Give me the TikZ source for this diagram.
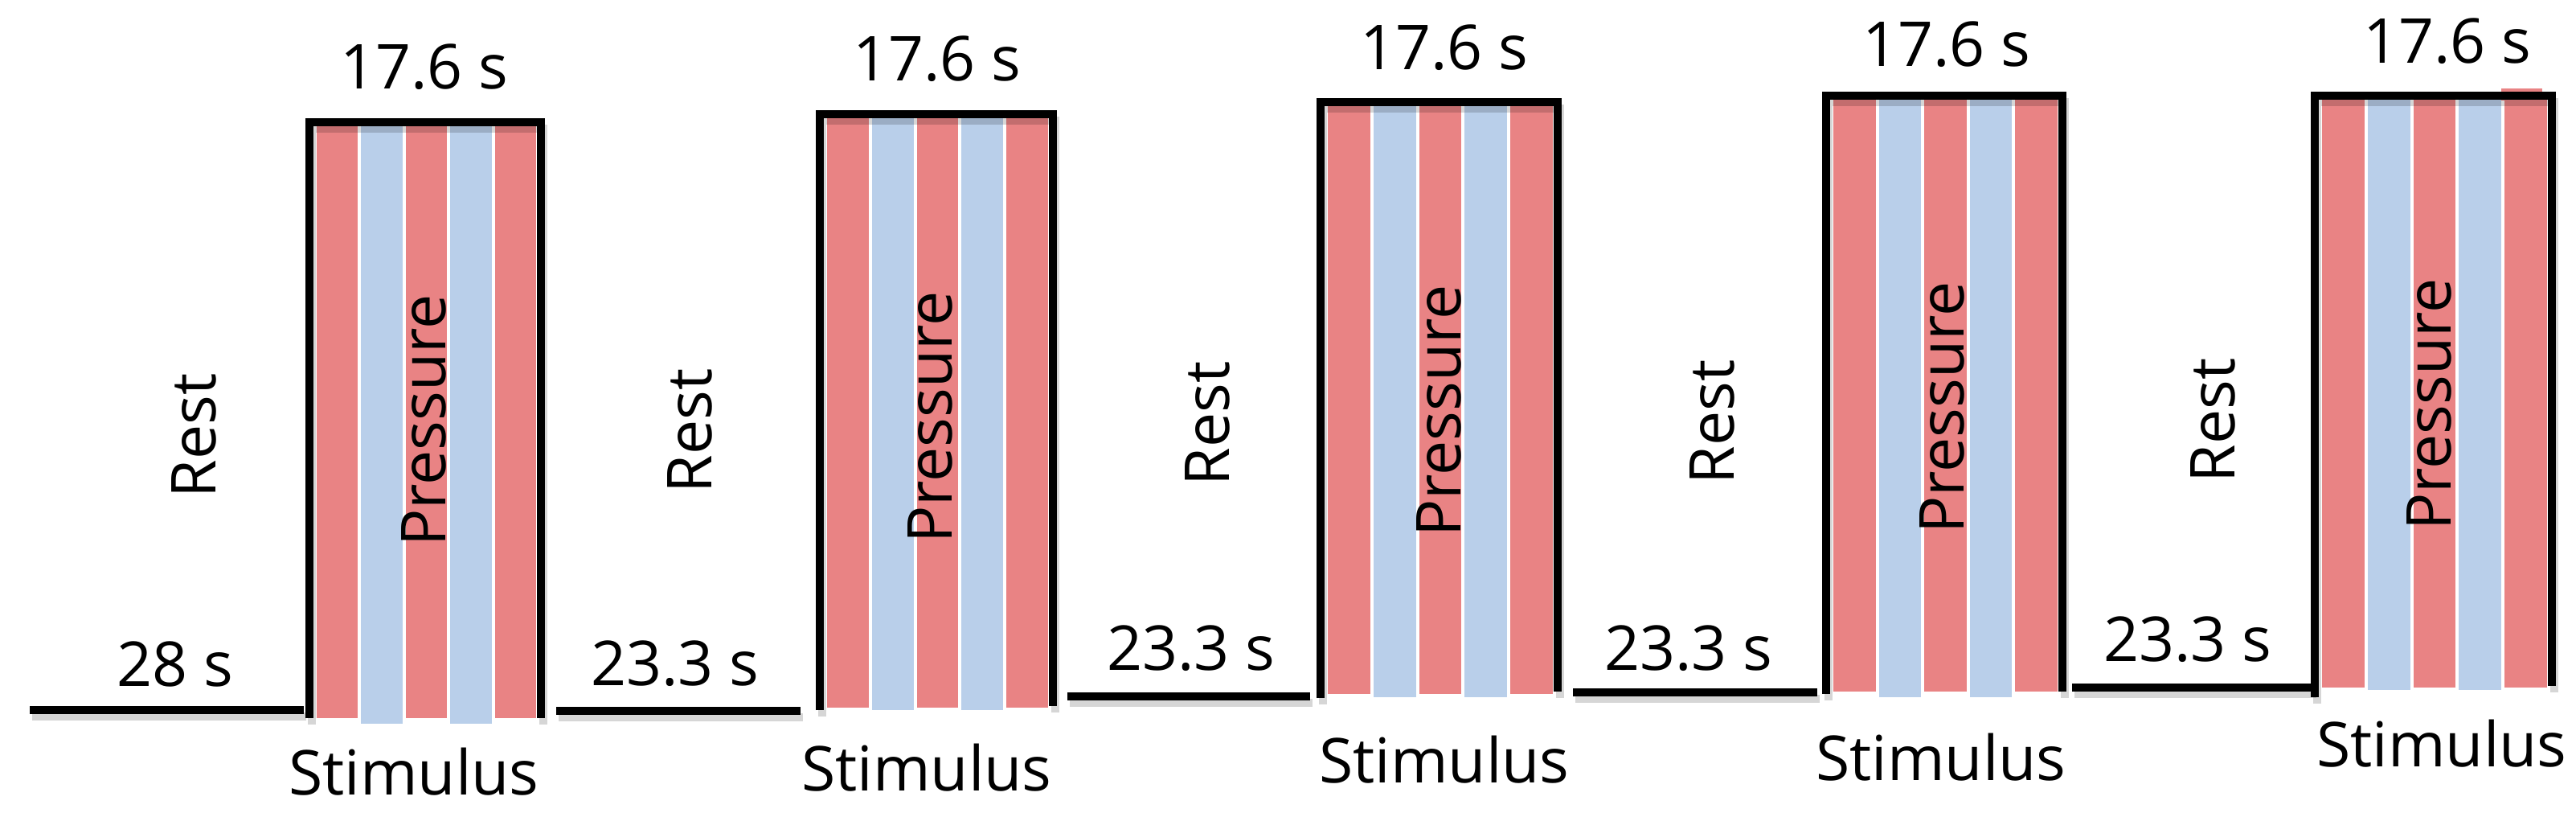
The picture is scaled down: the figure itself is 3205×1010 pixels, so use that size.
\documentclass[tikz,border=0pt]{standalone}
\usepackage{fontspec}
\setmainfont{Open Sans}
\definecolor{stripered}{HTML}{E98384}
\definecolor{stripeblue}{HTML}{B9CFEA}
\tikzset{
  lbl/.style={font=\fontsize{19.25}{23}\selectfont, inner sep=0pt, text=black},
  vlbl/.style={lbl, rotate=90, anchor=center},
  border/.style={line width=2.5pt, black, line join=miter, line cap=butt},
  segline/.style={line width=2.5pt, black, line cap=butt},
  shadowline/.style={line width=2.5pt, black, opacity=0.16, line join=miter, line cap=butt},
}
% #1 left, #2 right, #3 top, #4 left-bottom, #5 right-bottom, #6 red bottom, #7 blue bottom
\newcommand\stimblock[7]{%
  \pgfmathsetmacro\sx{#1+9}%
  \pgfmathsetmacro\sw{(#2-#1-15-16)/5}%
  \foreach \i in {0,...,4}{%
    \pgfmathsetmacro\xa{\sx+\i*(\sw+4)}%
    \pgfmathsetmacro\xb{\xa+\sw}%
    \ifodd\i\relax
      \fill[stripeblue] (\xa,#3) rectangle (\xb,#7);
    \else
      \fill[stripered] (\xa,#3) rectangle (\xb,#6);
    \fi
  }%
  \begin{scope}[shift={(3,8)}]
    \draw[shadowline] (#1,#4) -- (#1,#3) -- (#2,#3) -- (#2,#5);
  \end{scope}
  \draw[border] (#1,#4) -- (#1,#3) -- (#2,#3) -- (#2,#5);
}
\newcommand\restseg[3]{% #1 x start, #2 x end, #3 y
  \begin{scope}[shift={(3,8)}]
    \draw[shadowline] (#1,#3) -- (#2,#3);
  \end{scope}
  \draw[segline] (#1,#3) -- (#2,#3);
}
\begin{document}
\begin{tikzpicture}[x=0.25pt, y=-0.25pt]
  \useasboundingbox (0,0) rectangle (3205,1010);
  \fill[white] (0,0) rectangle (3205,1010);

  % rest baselines
  \restseg{37}{378}{883}
  \restseg{692}{996}{884}
  \restseg{1328}{1630}{866}
  \restseg{1957}{2261}{861}
  \restseg{2578}{2879}{855}

  % extra red overshoot on last block
  \fill[stripered] (3112,110) rectangle (3163,125);

  % stimulus blocks
  \stimblock{385}{673}{152}{893}{893}{893}{900}
  \stimblock{1020}{1310}{142}{883}{878}{880}{883}
  \stimblock{1643}{1938}{127}{868}{860}{863}{867}
  \stimblock{2272}{2566}{119}{863}{860}{860}{867}
  \stimblock{2880}{3175}{119}{867}{853}{855}{858}

  % durations of stimulus
  \node[lbl, anchor=base] (d1) at (528,110) {17.6 s};
  \node[lbl, anchor=base] (d2) at (1166,100) {17.6 s};
  \node[lbl, anchor=base] (d3) at (1797,86) {17.6 s};
  \node[lbl, anchor=base] (d4) at (2422,82) {17.6 s};
  \node[lbl, anchor=base] (d5) at (3045,78) {17.6 s};

  % durations of rest
  \node[lbl, anchor=base] (r1) at (218,853) {28 s};
  \node[lbl, anchor=base] (r2) at (840,852) {23.3 s};
  \node[lbl, anchor=base] (r3) at (1482,833) {23.3 s};
  \node[lbl, anchor=base] (r4) at (2101,833) {23.3 s};
  \node[lbl, anchor=base] (r5) at (2722,822) {23.3 s};

  % Rest labels
  \node[vlbl] (rest1) at (241,542) {Rest};
  \node[vlbl] (rest2) at (858,536) {Rest};
  \node[vlbl] (rest3) at (1502,527) {Rest};
  \node[vlbl] (rest4) at (2130,525) {Rest};
  \node[vlbl] (rest5) at (2753,523) {Rest};

  % Pressure labels
  \node[vlbl] (p1) at (527,523) {Pressure};
  \node[vlbl] (p2) at (1157,519) {Pressure};
  \node[vlbl] (p3) at (1790,511) {Pressure};
  \node[vlbl] (p4) at (2416,507) {Pressure};
  \node[vlbl] (p5) at (3022,503) {Pressure};

  % Stimulus labels
  \node[lbl, anchor=base] (s1) at (515,988) {Stimulus};
  \node[lbl, anchor=base] (s2) at (1153,983) {Stimulus};
  \node[lbl, anchor=base] (s3) at (1797,973) {Stimulus};
  \node[lbl, anchor=base] (s4) at (2415,970) {Stimulus};
  \node[lbl, anchor=base] (s5) at (3038,953) {Stimulus};
\end{tikzpicture}
\end{document}
